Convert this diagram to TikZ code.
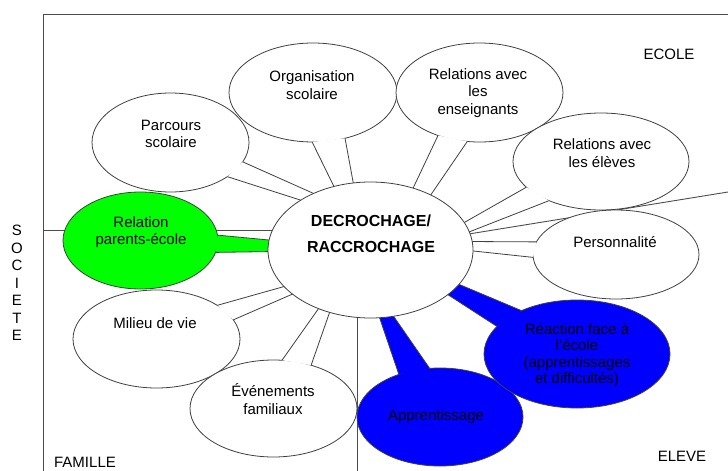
\documentclass[tikz,border=0pt]{standalone}
\usepackage{fontspec}
\setmainfont{Liberation Sans}
\usetikzlibrary{shapes.geometric}

\newcommand{\lblfont}{\fontsize{15}{17.5}\selectfont}

\begin{document}
\begin{tikzpicture}[
    x=1pt, y=-1pt,
    bubble/.style={ellipse, draw=black!75, line width=0.8pt, fill=white, inner sep=0pt, outer sep=0pt},
    lbl/.style={align=center, font=\lblfont, inner sep=0pt},
    edge/.style={draw=black!75, line width=0.8pt, line join=miter},
    frame/.style={draw=black!70, line width=0.9pt}
  ]
  \useasboundingbox (0,0) rectangle (728,471);

  % Axes
  \draw[frame] (728,14) -- (43,14) -- (43,471);
  \draw[frame] (43,230) -- (300,230);
  \draw[frame] (370,250) -- (728,192);
  \draw[frame] (357,300) -- (357,471);

  % Corner labels
  \node[lbl] (ecole) at (669,54) {ECOLE};
  \node[lbl] (eleve) at (682,456) {ELEVE};
  \node[lbl] (famille) at (85,462) {FAMILLE};
  \node[lbl] (societe) at (17,283) {S\\O\\C\\I\\E\\T\\E};

  % Parcours scolaire
  \node[bubble, minimum width=157, minimum height=99] (parc) at (170.5,142.5) {};
  \coordinate (parc_tip) at (400,232);
  \fill[white] (parc.345) -- (parc_tip) -- (parc.329) -- cycle;
  \draw[edge] (parc.345) -- (parc_tip) -- (parc.329);
  \node[lbl] (parc_txt) at (171,134) {Parcours\\scolaire};

  % Organisation scolaire
  \node[bubble, minimum width=168, minimum height=99] (org) at (313,92.5) {};
  \coordinate (org_tip) at (366,252);
  \fill[white] (org.269) -- (org_tip) -- (org.305) -- cycle;
  \draw[edge] (org.269) -- (org_tip) -- (org.305);
  \node[lbl] (org_txt) at (312,85) {Organisation\\scolaire};

  % Relations avec les enseignants
  \node[bubble, minimum width=167, minimum height=99] (ens) at (479.5,92.5) {};
  \coordinate (ens_tip) at (363,294);
  \fill[white] (ens.226) -- (ens_tip) -- (ens.256) -- cycle;
  \draw[edge] (ens.226) -- (ens_tip) -- (ens.256);
  \node[lbl] (ens_txt) at (478,93) {Relations avec\\les\\enseignants};

  % Relations avec les eleves
  \node[bubble, minimum width=176, minimum height=97] (elv) at (601,161.5) {};
  \coordinate (elv_tip) at (400,259);
  \fill[white] (elv.199) -- (elv_tip) -- (elv.217) -- cycle;
  \draw[edge] (elv.199) -- (elv_tip) -- (elv.217);
  \node[lbl] (elv_txt) at (602,153) {Relations avec\\les élèves};

  % Personnalite
  \node[bubble, minimum width=166, minimum height=89] (pers) at (616,254.5) {};
  \coordinate (pers_tip) at (380,241);
  \fill[white] (pers.171) -- (pers_tip) -- (pers.182) -- cycle;
  \draw[edge] (pers.171) -- (pers_tip) -- (pers.182);
  \node[lbl] (pers_txt) at (615,242) {Personnalité};

  % Relation parents-ecole
  \node[bubble, fill=green, minimum width=155, minimum height=97] (par) at (140.5,240.5) {};
  \coordinate (par_tip) at (374,250);
  \fill[green] (par.4) -- (par_tip) -- (par.351) -- cycle;
  \draw[edge] (par.4) -- (par_tip) -- (par.351);
  \node[lbl] (par_txt) at (141,232) {Relation\\parents-école};

  % Milieu de vie
  \node[bubble, minimum width=167, minimum height=98] (mil) at (156.5,339) {};
  \coordinate (mil_tip) at (357,266);
  \fill[white] (mil.29) -- (mil_tip) -- (mil.14) -- cycle;
  \draw[edge] (mil.29) -- (mil_tip) -- (mil.14);
  \node[lbl] (mil_txt) at (155,323) {Milieu de vie};

  % Evenements familiaux
  \node[bubble, minimum width=167, minimum height=97] (evt) at (273.5,408.5) {};
  \coordinate (evt_tip) at (343,274);
  \fill[white] (evt.80) -- (evt_tip) -- (evt.49) -- cycle;
  \draw[edge] (evt.80) -- (evt_tip) -- (evt.49);
  \node[lbl] (evt_txt) at (273,399) {Événements\\familiaux};

  % Apprentissage
  \node[bubble, fill=blue, minimum width=166, minimum height=98] (app) at (440,417) {};
  \coordinate (app_tip) at (365,275);
  \fill[blue] (app.134) -- (app_tip) -- (app.102) -- cycle;
  \draw[edge] (app.134) -- (app_tip) -- (app.102);
  \node[lbl] (app_txt) at (436,417) {Apprentissage};

  % Reaction face a l'ecole
  \node[bubble, fill=blue, minimum width=186, minimum height=108] (rea) at (577,354) {};
  \coordinate (rea_tip) at (382,252);
  \fill[blue] (rea.142) -- (rea_tip) -- (rea.161) -- cycle;
  \draw[edge] (rea.142) -- (rea_tip) -- (rea.161);
  \node[lbl, font=\fontsize{15}{16.5}\selectfont] (rea_txt) at (577,355) {Réaction face à\\l'école\\(apprentissages\\et difficultés)};

  % Centre
  \node[bubble, minimum width=205, minimum height=136] (dc) at (370.5,250) {};
  \node[align=center, inner sep=0pt, font=\fontsize{16}{26}\selectfont\bfseries] (dc_txt) at (371,234) {DECROCHAGE/\\RACCROCHAGE};
\end{tikzpicture}
\end{document}
